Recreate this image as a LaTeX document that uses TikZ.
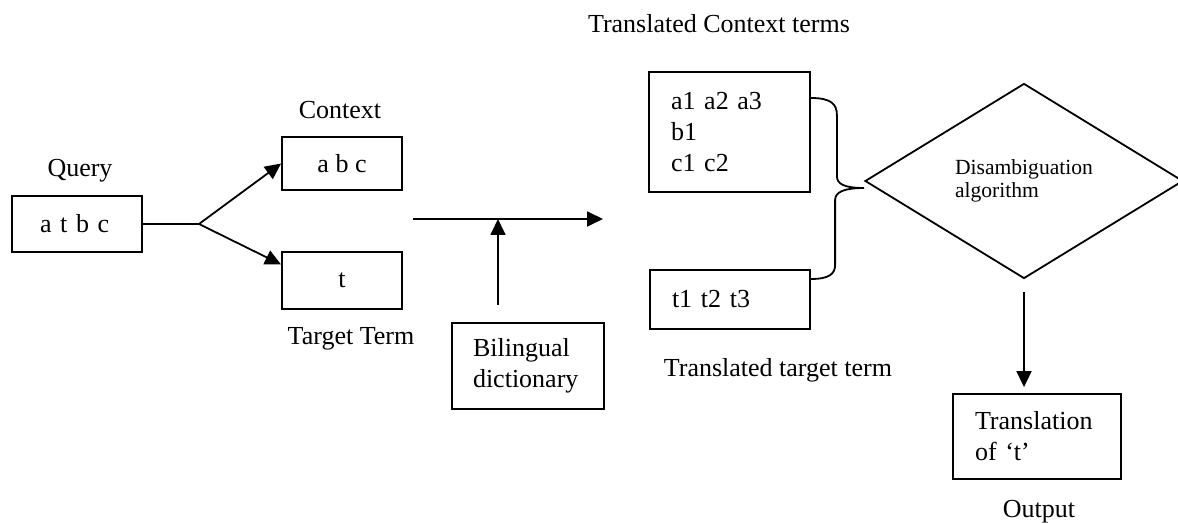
\documentclass[tikz,border=0pt]{standalone}
\usepackage{fontspec}
\setmainfont{Liberation Serif}
\usetikzlibrary{arrows.meta,shapes.geometric}

\begin{document}
\begin{tikzpicture}[x=0.5pt,y=-0.5pt,line width=0.9pt,
    font=\fontsize{13}{15.5}\selectfont,
    >={Triangle[length=8pt,width=7.5pt]},
    box/.style={draw,rectangle,inner ysep=0pt,align=left}]
    \useasboundingbox (0,0) rectangle (1178,523);
    \node[box,minimum width=65pt,minimum height=28pt,inner xsep=14pt,text width=37pt] (query) at (77,224) {a t b c};
    \node[box,minimum width=60pt,minimum height=26.5pt,align=center] (context) at (342,163.5) {a b c};
    \node[box,minimum width=60pt,minimum height=28.5pt,align=center] (target) at (342,280.5) {t};
    \node[box,minimum width=76pt,minimum height=43pt,inner xsep=10.5pt,text width=55pt] (dict) at (528,366) {Bilingual\\dictionary};
    \node[box,minimum width=80.5pt,minimum height=60pt,inner xsep=11pt,text width=58.5pt] (ctxterms) at (729.5,132) {a1 a2 a3\\b1\\c1 c2};
    \node[box,minimum width=80pt,minimum height=29.5pt,inner xsep=11pt,text width=58pt] (tgtterms) at (730,299.5) {t1 t2 t3};
    \node[draw,diamond,minimum width=159pt,minimum height=97.5pt,inner sep=0pt,align=left,
        font=\fontsize{10.8}{11.8}\selectfont] (disamb) at (1024,181) {Disambiguation\\algorithm};
    \node[box,minimum width=84pt,minimum height=42.5pt,inner xsep=11pt,text width=62pt] (output) at (1037,436.5) {Translation\\of `t'};
    \node[anchor=base] (querylbl) at (80,177) {Query};
    \node[anchor=base] (contextlbl) at (340,119) {Context};
    \node[anchor=base] (targetlbl) at (351,345) {Target Term};
    \node[anchor=base] (ctxlbl) at (719,33) {Translated Context terms};
    \node[anchor=base west,inner xsep=0pt] (tgtlbl) at (663,377) {Translated target term};
    \node[anchor=base] (outputlbl) at (1039,517) {Output};
    \coordinate (fork) at (199,224);
    \draw (query.east) -- (fork);
    \draw[->] (fork) -- (context.west);
    \draw[->] (fork) -- ([yshift=8pt]target.west);
    \coordinate (from) at (413,219);
    \coordinate (to) at (603,219);
    \coordinate (meet) at (498,219);
    \coordinate (dictfoot) at (498,305);
    \draw[->] (from) -- (to);
    \draw[->] (dictfoot) -- (meet);
    \coordinate (btop) at ([yshift=17pt]ctxterms.east);
    \coordinate (bbot) at ([yshift=10.25pt]tgtterms.east);
    \coordinate (btip) at ([yshift=-3.5pt]disamb.west);
    \draw (btop) .. controls +(20,0) and +(0,-11) .. ++(26,17) -- ++(0,61)
        .. controls +(0,8) and +(-20,0) .. (btip)
        .. controls +(-20,0) and +(0,-8) .. ++(-29,12) -- ++(0,65)
        .. controls +(0,9) and +(18,0) .. (bbot);
    \coordinate (down) at (1024,292);
    \draw[->,shorten >=3pt] (down) -- (down |- output.north);
\end{tikzpicture}
\end{document}
